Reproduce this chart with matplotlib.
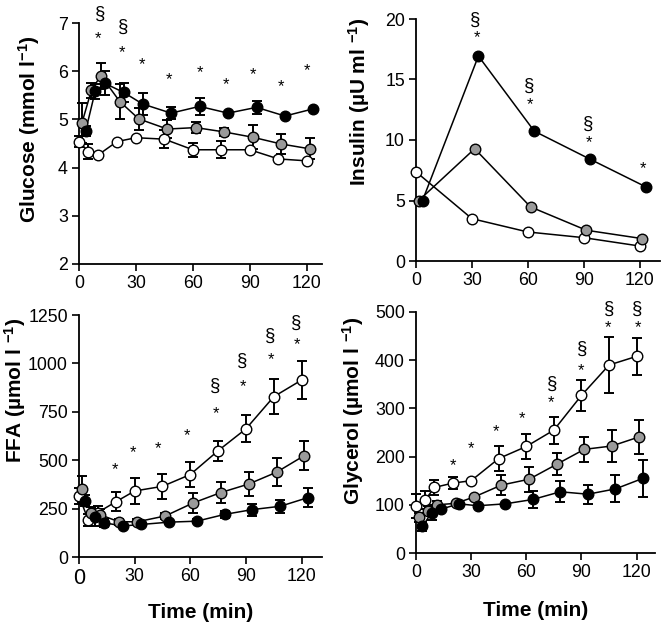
import matplotlib
matplotlib.use("Agg")
import matplotlib.pyplot as plt
import numpy as np

plt.rcParams['font.family'] = ['Liberation Sans', 'DejaVu Sans']
plt.rcParams['mathtext.fontset'] = 'custom'
plt.rcParams['mathtext.rm'] = 'Liberation Sans'
plt.rcParams['mathtext.bf'] = 'Liberation Sans:bold'
plt.rcParams['mathtext.default'] = 'bf'

# ---------------- data ----------------
time = [0, 5, 10, 20, 30, 45, 60, 75, 90, 105, 120]
time_ins = [0, 30, 60, 90, 120]

glu_white = [4.54, 4.33, 4.26, 4.54, 4.62, 4.59, 4.37, 4.37, 4.37, 4.18, 4.14]
glu_white_err = [0.12, 0.15, 0.0, 0.0, 0.0, 0.18, 0.15, 0.18, 0.0, 0.0, 0.0]
glu_gray = [4.92, 5.60, 5.91, 5.37, 5.01, 4.80, 4.83, 4.74, 4.63, 4.49, 4.39]
glu_gray_err = [0.42, 0.15, 0.27, 0.37, 0.22, 0.18, 0.12, 0.08, 0.25, 0.20, 0.22]
glu_black = [4.76, 5.58, 5.75, 5.56, 5.32, 5.13, 5.27, 5.13, 5.25, 5.07, 5.22]
glu_black_err = [0.10, 0.15, 0.25, 0.20, 0.22, 0.12, 0.18, 0.0, 0.13, 0.0, 0.0]

ins_white = [7.37, 3.50, 2.40, 1.93, 1.24]
ins_gray = [5.00, 9.28, 4.47, 2.54, 1.85]
ins_black = [5.00, 16.94, 10.73, 8.41, 6.12]

ffa_white = [315, 191, 229, 286, 341, 365, 426, 549, 662, 828, 914]
ffa_white_err = [40, 30, 35, 48, 65, 65, 65, 52, 70, 90, 96]
ffa_gray = [350, 229, 218, 182, 182, 212, 279, 333, 377, 438, 524]
ffa_gray_err = [68, 30, 30, 15, 15, 15, 50, 53, 60, 73, 76]
ffa_black = [291, 205, 177, 160, 168, 180, 185, 220, 245, 262, 307]
ffa_black_err = [30, 45, 20, 10, 10, 10, 10, 20, 31, 34, 49]

gly_white = [97, 110, 136, 145, 150, 196, 221, 255, 327, 390, 408]
gly_white_err = [25, 18, 15, 13, 0, 26, 26, 28, 32, 59, 39]
gly_gray = [74, 88, 100, 103, 116, 141, 153, 184, 215, 222, 241]
gly_gray_err = [10, 10, 8, 0, 0, 20, 26, 23, 26, 34, 35]
gly_black = [55, 84, 91, 102, 98, 102, 111, 127, 122, 133, 155]
gly_black_err = [10, 15, 0, 0, 0, 0, 18, 22, 20, 28, 38]

# significance labels: (time, y, text)
glu_sig = [(11, 7.18, '§'), (23.5, 6.92, '§'), (10, 6.68, '*'), (22.5, 6.38, '*'),
           (33, 6.14, '*'), (47.5, 5.83, '*'), (63.5, 5.97, '*'), (77.5, 5.72, '*'),
           (91.5, 5.93, '*'), (106.5, 5.69, '*'), (120, 6.01, '*')]
ins_sig = [(32, 19.9, '§'), (32.5, 18.5, '*'), (60.7, 14.4, '§'), (61.2, 12.9, '*'),
           (92.3, 11.3, '§'), (92.8, 9.8, '*'), (122, 7.6, '*')]
ffa_sig = [(19.4, 450, '*'), (29.3, 537, '*'), (42.7, 559, '*'), (58.3, 626, '*'),
           (73.7, 740, '*'), (73.5, 880, '§'), (88.5, 881, '*'), (88.2, 1010, '§'),
           (103.5, 1019, '*'), (103.2, 1140, '§'), (117.5, 1096, '*'), (117.2, 1205, '§')]
gly_sig = [(19.9, 182, '*'), (29.8, 216, '*'), (43.7, 251, '*'), (57.8, 279, '*'),
           (73.6, 311, '*'), (74.2, 350, '§'), (89.8, 379, '*'), (90.4, 423, '§'),
           (104.2, 467, '*'), (104.8, 506, '§'), (120.5, 467, '*'), (120.5, 506, '§')]

# ---------------- style ----------------
GRAY = '#9a9a9a'
OFF = {'white': 0.0, 'gray': 1.5, 'black': 3.5}
FACE = {'white': 'white', 'gray': GRAY, 'black': 'black'}
MS = 7.6

fig = plt.figure(figsize=(6.64, 6.22), dpi=100)
W, H = 664, 622

def make_ax(l, r, t, b):
    return fig.add_axes([l / W, 1 - b / H, (r - l) / W, (b - t) / H])

ax_glu = make_ax(79, 322, 23, 264)
ax_ins = make_ax(416, 660, 19, 261)
ax_ffa = make_ax(79, 322, 315, 557)
ax_gly = make_ax(416, 655, 312, 553)


def series(ax, t, y, err, kind):
    tt = np.array(t, dtype=float) + OFF[kind]
    if err is not None:
        ax.errorbar(tt, y, yerr=err, fmt='none', ecolor='black', elinewidth=1.4,
                    capsize=3.6, capthick=1.4, zorder=2, clip_on=False)
    ax.plot(tt, y, '-', color='black', lw=1.1, zorder=3, clip_on=False)
    ax.plot(tt, y, 'o', ms=MS, mfc=FACE[kind], mec='black', mew=1.0,
            zorder=4, clip_on=False)


def style(ax, xmax, ylim, yticks):
    ax.set_xlim(0, xmax)
    ax.set_ylim(*ylim)
    ax.set_xticks([0, 30, 60, 90, 120])
    ax.set_yticks(yticks)
    for s in ['top', 'right']:
        ax.spines[s].set_visible(False)
    for s in ['left', 'bottom']:
        ax.spines[s].set_linewidth(1.3)
    ax.tick_params(direction='out', length=5, width=1.2, labelsize=12.8, pad=3)


def sig(ax, items):
    for x, y, txt in items:
        if txt == '§':
            ax.text(x, y, txt, ha='center', va='center', fontsize=13.5, zorder=5,
                    clip_on=False)
        else:
            ax.text(x, y, txt, ha='center', va='center', fontsize=12, zorder=5,
                    clip_on=False)


def ylab(ax, text, xc, yc):
    ax.set_ylabel(text, fontsize=15, fontweight='bold')
    ax.yaxis.label.set_verticalalignment('center')
    ax.yaxis.set_label_coords(xc, yc)

# Glucose
series(ax_glu, time, glu_white, glu_white_err, 'white')
series(ax_glu, time, glu_gray, glu_gray_err, 'gray')
series(ax_glu, time, glu_black, glu_black_err, 'black')
style(ax_glu, 128, (2, 7), [2, 3, 4, 5, 6, 7])
sig(ax_glu, glu_sig)
ylab(ax_glu, 'Glucose (mmol l$^{-1}$)', -0.206, 0.56)

# Insulin
series(ax_ins, time_ins, ins_white, None, 'white')
series(ax_ins, time_ins, ins_gray, None, 'gray')
series(ax_ins, time_ins, ins_black, None, 'black')
style(ax_ins, 131, (0, 20), [0, 5, 10, 15, 20])
sig(ax_ins, ins_sig)
ylab(ax_ins, 'Insulin (µU ml $^{-1}$)', -0.234, 0.657)

# FFA
series(ax_ffa, time, ffa_white, ffa_white_err, 'white')
series(ax_ffa, time, ffa_gray, ffa_gray_err, 'gray')
series(ax_ffa, time, ffa_black, ffa_black_err, 'black')
style(ax_ffa, 131, (0, 1250), [0, 250, 500, 750, 1000, 1250])
sig(ax_ffa, ffa_sig)
ylab(ax_ffa, 'FFA (µmol l $^{-1}$)', -0.262, 0.69)
ax_ffa.set_xlabel('Time (min)', fontsize=15, fontweight='bold', labelpad=10)
fig.canvas.draw()
lbl0 = ax_ffa.get_xticklabels()[0]
lbl0.set_fontsize(15.5)

# Glycerol
series(ax_gly, time, gly_white, gly_white_err, 'white')
series(ax_gly, time, gly_gray, gly_gray_err, 'gray')
series(ax_gly, time, gly_black, gly_black_err, 'black')
style(ax_gly, 130, (0, 500), [0, 100, 200, 300, 400, 500])
sig(ax_gly, gly_sig)
ylab(ax_gly, 'Glycerol (µmol l $^{-1}$)', -0.264, 0.59)
ax_gly.set_xlabel('Time (min)', fontsize=15, fontweight='bold', labelpad=14)

fig.savefig('out.png', dpi=100)
